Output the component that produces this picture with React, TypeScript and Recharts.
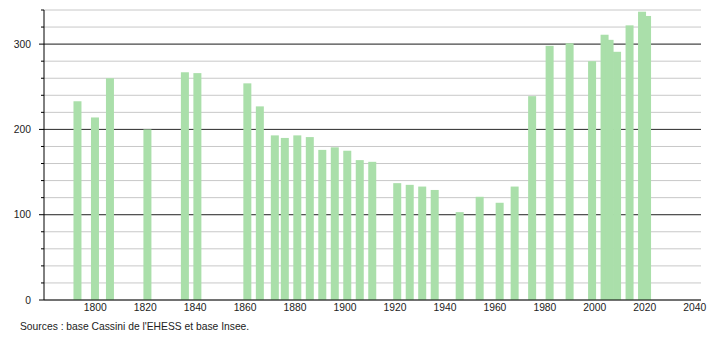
import React from "react";
import { BarChart, Bar, XAxis, YAxis, CartesianGrid } from "recharts";

const years = [
  1793, 1800, 1806, 1821, 1836, 1841, 1861, 1866, 1872, 1876, 1881, 1886,
  1891, 1896, 1901, 1906, 1911, 1921, 1926, 1931, 1936, 1946, 1954, 1962,
  1968, 1975, 1982, 1990, 1999, 2004, 2006, 2009, 2014, 2019, 2021,
];

const population = [
  233, 214, 260, 200, 267, 266, 254, 227, 193, 190, 193, 191,
  176, 179, 175, 164, 162, 137, 135, 133, 129, 103, 121, 114,
  133, 239, 298, 301, 280, 311, 305, 291, 322, 338, 333,
];

const xTicks = [1800, 1820, 1840, 1860, 1880, 1900, 1920, 1940, 1960, 1980, 2000, 2020, 2040];
const yTicks = [0, 20, 40, 60, 80, 100, 120, 140, 160, 180, 200, 220, 240, 260, 280, 300, 320, 340];
const majorY = [100, 200, 300];
const yLabels = [0, 100, 200, 300];

const data = years.map((y, i) => ({ year: y, pop: population[i] }));

const FONT = "'Liberation Sans', Arial, sans-serif";
const TEXT = "#222";
const BAR_W = 8;

function YTick(props: any) {
  const { x, y, payload } = props;
  const v = payload.value as number;
  const major = v % 100 === 0;
  return (
    <g>
      <line x1={x - (major ? 5 : 3)} x2={x} y1={y} y2={y} stroke="#000" strokeWidth={1} />
      {yLabels.includes(v) && (
        <text
          x={x - 13}
          y={y}
          dy="0.35em"
          textAnchor="end"
          fontSize={10.3}
          fontFamily={FONT}
          fill={TEXT}
        >
          {v}
        </text>
      )}
    </g>
  );
}

// recharts squeezes bars on a number axis, so draw them at a fixed width around the center
function WideBar(props: any) {
  const { x, y, width, height, fill } = props;
  if (!height || height <= 0) return null;
  const cx = x + width / 2;
  return <rect x={cx - BAR_W / 2} y={y} width={BAR_W} height={height} fill={fill} />;
}

export default function App() {
  return (
    <div style={{ position: "relative", width: 710, height: 340, background: "#fff" }}>
      <style>{"body{margin:0}"}</style>
      <BarChart
        width={710}
        height={340}
        data={data}
        margin={{ top: 10, right: 9, bottom: 20, left: 0 }}
      >
        <CartesianGrid
          vertical={false}
          horizontalValues={yTicks}
          stroke="#c8c8c8"
          strokeWidth={1}
        />
        <CartesianGrid
          vertical={false}
          horizontalValues={majorY}
          stroke="#333"
          strokeWidth={1}
        />
        <XAxis
          dataKey="year"
          type="number"
          domain={[1779.5, 2042.5]}
          ticks={xTicks}
          allowDataOverflow
          tickLine={false}
          tickSize={0}
          tickMargin={4}
          height={20}
          axisLine={{ stroke: "#000" }}
          tick={{ fontSize: 10.3, fontFamily: FONT, fill: TEXT }}
        />
        <YAxis
          type="number"
          domain={[0, 340]}
          ticks={yTicks}
          interval={0}
          width={44}
          tickLine={false}
          tickSize={0}
          tickMargin={0}
          axisLine={{ stroke: "#000" }}
          tick={<YTick />}
        />
        <Bar
          dataKey="pop"
          fill="#aadfaa"
          barSize={BAR_W}
          shape={<WideBar />}
          isAnimationActive={false}
        />
      </BarChart>
      <div
        style={{
          position: "absolute",
          left: 20,
          top: 321,
          fontSize: 10.3,
          fontFamily: FONT,
          color: TEXT,
          whiteSpace: "nowrap",
        }}
      >
        Sources : base Cassini de l'EHESS et base Insee.
      </div>
    </div>
  );
}
